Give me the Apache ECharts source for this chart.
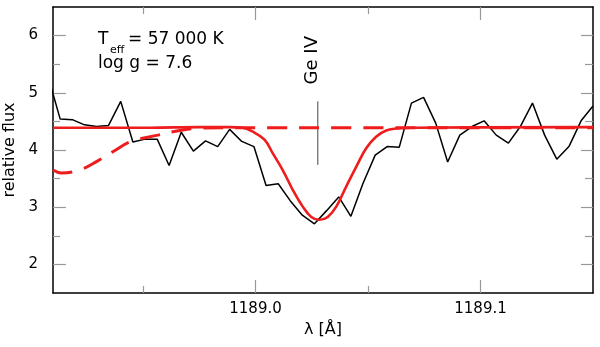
<!DOCTYPE html>
<html lang="en">
<head>
    <meta charset="UTF-8">
    <title>Ge IV 1189</title>
    <script src="https://cdn.jsdelivr.net/npm/echarts@6/dist/echarts.min.js"></script>
    <style>
        body { margin: 0; background: #fff; }
        #main { width: 600px; height: 347px; }
    </style>
</head>
<body>
<div id="main"></div>

<script type="text/javascript">
    // observed spectrum (wavelength in A, relative flux)
    var obsX = [1188.9078, 1188.9132, 1188.9186, 1188.9240, 1188.9293, 1188.9347, 1188.9401, 1188.9455, 1188.9509,
        1188.9563, 1188.9616, 1188.9670, 1188.9724, 1188.9778, 1188.9832, 1188.9885, 1188.9939, 1188.9993,
        1189.0047, 1189.0101, 1189.0155, 1189.0208, 1189.0262, 1189.0316, 1189.0370, 1189.0424, 1189.0478,
        1189.0532, 1189.0585, 1189.0639, 1189.0693, 1189.0747, 1189.0801, 1189.0854, 1189.0908, 1189.0962,
        1189.1016, 1189.1070, 1189.1124, 1189.1177, 1189.1231, 1189.1285, 1189.1339, 1189.1393, 1189.1447, 1189.1500];
    var obsY = [5.29, 4.54, 4.53, 4.44, 4.41, 4.43, 4.85, 4.14, 4.19,
        4.19, 3.73, 4.31, 3.98, 4.16, 4.06, 4.36, 4.15, 4.06,
        3.38, 3.41, 3.11, 2.86, 2.71, 2.94, 3.18, 2.84, 3.42,
        3.91, 4.06, 4.05, 4.82, 4.92, 4.47, 3.79, 4.26, 4.41,
        4.51, 4.26, 4.12, 4.41, 4.82, 4.26, 3.84, 4.06, 4.51, 4.77];

    // model with Ge IV (solid)
    var modelX = [1188.91, 1188.9529, 1188.9751, 1188.9884, 1188.9942, 1188.9988, 1189.0040, 1189.0077, 1189.0121,
        1189.0166, 1189.0210, 1189.0248, 1189.0284, 1189.0321, 1189.0359, 1189.0403, 1189.0448, 1189.0492,
        1189.0536, 1189.0581, 1189.0640, 1189.0698, 1189.15];
    var modelY = [4.39, 4.39, 4.40, 4.40, 4.39, 4.32, 4.18, 3.94, 3.65,
        3.30, 3.01, 2.83, 2.78, 2.83, 3.01, 3.36, 3.71, 4.03,
        4.23, 4.34, 4.38, 4.39, 4.40];

    // model without Ge IV (dashed)
    var noGeX = [1188.91, 1188.9136, 1188.9218, 1188.9299, 1188.9366, 1188.9448, 1188.9566, 1188.9677, 1188.9751, 1188.9884, 1189.15];
    var noGeY = [3.65, 3.60, 3.65, 3.81, 3.97, 4.15, 4.26, 4.35, 4.38, 4.39, 4.39];

    // line marker
    var geX = 1189.0277;
    var geY = [3.74, 4.85];

    var xMajor = [1189.0, 1189.1];
    var xMinor = [1188.95, 1189.05];
    var yMajor = [2, 3, 4, 5, 6];
    var yMinor = [2.5, 3.5, 4.5, 5.5];

    function pairs(xs, ys) {
        var out = [];
        for (var i = 0; i < xs.length; i++) out.push([xs[i], ys[i]]);
        return out;
    }

    var FONT = 'DejaVu Sans';
    var tickColor = '#999';

    function xAx(pos, ticks, len, labels, line) {
        return {
            type: 'value', position: pos, min: 1188.91, max: 1189.15,
            name: labels ? 'λ [Å]' : '', nameLocation: 'middle', nameGap: 27,
            nameTextStyle: {fontFamily: FONT, fontSize: 16, color: '#000'},
            axisLine: {show: line, onZero: false, lineStyle: {color: '#000', width: 1.5}},
            axisTick: {show: true, inside: true, length: len, customValues: ticks, lineStyle: {color: tickColor, width: 1.2}},
            axisLabel: {show: labels, customValues: ticks, margin: 9, fontFamily: FONT, fontSize: 15, color: '#000',
                formatter: function (v) { return v.toFixed(1); }},
            splitLine: {show: false}
        };
    }
    function yAx(pos, ticks, len, labels, line) {
        return {
            type: 'value', position: pos, min: 1.5, max: 6.5,
            name: labels ? 'relative flux' : '', nameLocation: 'middle', nameGap: 31,
            nameTextStyle: {fontFamily: FONT, fontSize: 16, color: '#000'},
            axisLine: {show: line, onZero: false, lineStyle: {color: '#000', width: 1.5}},
            axisTick: {show: true, inside: true, length: len, customValues: ticks, lineStyle: {color: tickColor, width: 1.2}},
            axisLabel: {show: labels, customValues: ticks, margin: 15, fontFamily: FONT, fontSize: 15, color: '#000'},
            splitLine: {show: false}
        };
    }

    var myChart = echarts.init(document.getElementById('main'));
    var red = '#ee1c1c';
    var option = {
        animation: false,
        backgroundColor: '#fff',
        grid: {left: 53, right: 7, top: 7, bottom: 54, containLabel: false, outerBoundsMode: 'none'},
        xAxis: [
            xAx('bottom', xMajor, 13, true, true),
            xAx('bottom', xMinor, 7, false, false),
            xAx('top', xMajor, 13, false, true),
            xAx('top', xMinor, 7, false, false)
        ],
        yAxis: [
            yAx('left', yMajor, 13, true, true),
            yAx('left', yMinor, 7, false, false),
            yAx('right', yMajor, 12, false, true),
            yAx('right', yMinor, 8, false, false)
        ],
        series: [
            {
                type: 'line', data: [[geX, geY[0]], [geX, geY[1]]], symbol: 'none',
                lineStyle: {color: '#444', width: 1}
            },
            {
                type: 'line', data: pairs(obsX, obsY), symbol: 'none',
                lineStyle: {color: '#000', width: 1.5}
            },
            {
                type: 'line', data: pairs(noGeX, noGeY), symbol: 'none', smooth: 0.4,
                lineStyle: {color: red, width: 3, type: [20, 12]}
            },
            {
                type: 'line', data: pairs(modelX, modelY), symbol: 'none', smooth: 0.4,
                lineStyle: {color: red, width: 2.6, type: 'solid'}
            }
        ]
    };
    myChart.setOption(option);

    // annotations
    var gePt = myChart.convertToPixel({xAxisIndex: 0, yAxisIndex: 0}, [geX, geY[1]]);
    var txt = {fontFamily: FONT, fill: '#000'};
    myChart.setOption({
        graphic: [
            {type: 'text', x: 98, y: 31, style: Object.assign({text: 'T', fontSize: 17}, txt)},
            {type: 'text', x: 110, y: 45, style: Object.assign({text: 'eff', fontSize: 11}, txt)},
            {type: 'text', x: 128, y: 31, style: Object.assign({text: '= 57 000 K', fontSize: 17}, txt)},
            {type: 'text', x: 98, y: 55, style: Object.assign({text: 'log g = 7.6', fontSize: 17}, txt)},
            {type: 'text', x: gePt[0] + 4, y: gePt[1] - 17, rotation: Math.PI / 2,
                style: Object.assign({text: 'Ge IV', fontSize: 18, textAlign: 'left', textVerticalAlign: 'bottom'}, txt)}
        ]
    });
</script>

</body>
</html>
